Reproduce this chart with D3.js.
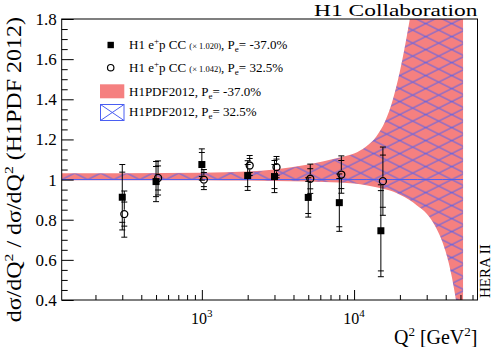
<!DOCTYPE html>
<html><head><meta charset="utf-8">
<script src="https://cdn.jsdelivr.net/npm/d3@7"></script>
<style>
html,body{margin:0;padding:0;background:#fff;}
svg{display:block;font-family:"Liberation Serif","Times New Roman",serif;}
</style></head>
<body>
<svg id="c" width="495" height="347"></svg>
<script>
// ---- data ----
const q2Points = [300, 500, 1000, 2000, 3000, 5000, 8000, 15000];
const negValues = [0.912, 0.990, 1.075, 1.020, 1.015, 0.911, 0.885, 0.745];
const negTotErr = [0.163, 0.100, 0.078, 0.074, 0.080, 0.098, 0.143, 0.229];
const negStatErr = [0.125, 0.075, 0.060, 0.055, 0.060, 0.080, 0.120, 0.200];
const posValues = [0.828, 1.008, 1.000, 1.070, 1.062, 1.004, 1.025, 0.992];
const posTotErr = [0.115, 0.085, 0.050, 0.050, 0.053, 0.073, 0.093, 0.170];
const posStatErr = [0.060, 0.060, 0.035, 0.035, 0.040, 0.050, 0.070, 0.130];

const bandQ2 = [120, 300, 1000, 2000, 3000, 5000, 8000, 10000, 12000, 14000, 16000, 18000, 20000, 23000, 26000, 30000, 34000, 38000, 42000, 46000, 50000, 52000];
const negBandUpper = [1.032, 1.032, 1.034, 1.040, 1.050, 1.075, 1.110, 1.130, 1.165, 1.215, 1.290, 1.400, 1.540, 1.780, 2.030, 2.300, 2.600, 2.900, 3.200, 3.500, 3.800, 4.000];
const negBandLower = [0.997, 0.997, 0.997, 0.995, 0.993, 0.990, 0.985, 0.980, 0.972, 0.962, 0.952, 0.940, 0.925, 0.900, 0.870, 0.830, 0.770, 0.690, 0.580, 0.430, 0.250, 0.150];
const posBandUpper = [1.030, 1.030, 1.032, 1.038, 1.048, 1.073, 1.108, 1.128, 1.163, 1.213, 1.288, 1.398, 1.538, 1.778, 2.030, 2.300, 2.600, 2.900, 3.200, 3.500, 3.800, 4.000];
const posBandLower = [1.000, 1.000, 1.000, 0.997, 0.995, 0.992, 0.987, 0.982, 0.974, 0.964, 0.954, 0.942, 0.927, 0.902, 0.872, 0.832, 0.772, 0.692, 0.582, 0.432, 0.252, 0.152];

const yTickValues = [0.4, 0.6, 0.8, 1.0, 1.2, 1.4, 1.6, 1.8];
const yTickLabels = ["0.4", "0.6", "0.8", "1", "1.2", "1.4", "1.6", "1.8"];
const xMajorTicks = [1000, 10000];
const xMajorExp = ["3", "4"];

const xDomain = [120, 64700];
const yDomain = [0.4, 1.8];

// ---- layout ----
const L = 61.7, R = 477.5, T = 19, B = 300;
const svg = d3.select("#c");
const x = d3.scaleLog().domain(xDomain).range([L, R]);
const y = d3.scaleLinear().domain(yDomain).range([B, T]);

const RED = "#f58080", BLUE = "#4a5ef2";

svg.append("defs").append("clipPath").attr("id", "clip")
  .append("rect").attr("x", L).attr("y", T).attr("width", R - L).attr("height", B - T);
const PW = 26, PH = 13;
const pat = svg.select("defs").append("pattern").attr("id", "hatch")
  .attr("patternUnits", "userSpaceOnUse").attr("width", PW).attr("height", PH)
  .attr("x", L).attr("y", y(1));
pat.append("path").attr("d", `M${-PW},${-PH}L${2*PW},${2*PH}M${-PW},${2*PH}L${2*PW},${-PH}`)
  .attr("stroke", BLUE).attr("stroke-width", 1).attr("fill", "none");

const plot = svg.append("g").attr("clip-path", "url(#clip)");

const negBand = bandQ2.map((q, i) => ({q, lo: negBandLower[i], hi: negBandUpper[i]}));
const posBand = bandQ2.map((q, i) => ({q, lo: posBandLower[i], hi: posBandUpper[i]}));
const area = d3.area().x(d => x(d.q)).y0(d => y(d.lo)).y1(d => y(d.hi)).curve(d3.curveMonotoneX);

plot.append("path").datum(negBand).attr("d", area).attr("fill", RED);
plot.append("path").datum(posBand).attr("d", area).attr("fill", "url(#hatch)");
plot.append("path").datum(bandQ2).attr("d", d3.line().x(q => x(q)).y(() => y(1)))
  .attr("stroke", BLUE).attr("stroke-width", 1).attr("fill", "none");

// ---- points ----
function drawSeries(vals, tot, stat, shift, kind) {
  const g = svg.append("g");
  const r = 3.5;
  q2Points.forEach((q, i) => {
    const cx = x(q * shift), cy = y(vals[i]);
    const yt = y(vals[i] + tot[i]), yb = y(vals[i] - tot[i]);
    const gap = kind === "circle" ? r + 0.8 : 0;
    g.append("line").attr("x1", cx).attr("x2", cx).attr("y1", yt).attr("y2", cy - gap)
      .attr("stroke", "#000").attr("stroke-width", 1);
    g.append("line").attr("x1", cx).attr("x2", cx).attr("y1", cy + gap).attr("y2", yb)
      .attr("stroke", "#000").attr("stroke-width", 1);
    [vals[i] + tot[i], vals[i] - tot[i], vals[i] + stat[i], vals[i] - stat[i]].forEach(v => {
      g.append("line").attr("x1", cx - 3).attr("x2", cx + 3).attr("y1", y(v)).attr("y2", y(v))
        .attr("stroke", "#000").attr("stroke-width", 1);
    });
    if (kind === "square") {
      g.append("rect").attr("x", cx - r).attr("y", cy - r).attr("width", 2 * r).attr("height", 2 * r).attr("fill", "#000");
    } else {
      g.append("circle").attr("cx", cx).attr("cy", cy).attr("r", r).attr("fill", "none")
        .attr("stroke", "#000").attr("stroke-width", 1.3);
    }
  });
}
drawSeries(negValues, negTotErr, negStatErr, 1, "square");
drawSeries(posValues, posTotErr, posStatErr, 1.031, "circle");

// ---- axes ----
const minorX = [];
[100, 1000, 10000].forEach(d => { for (let k = 2; k <= 9; k++) { const v = d * k; if (v > xDomain[0] && v < xDomain[1]) minorX.push(v); } });
svg.append("g").attr("transform", `translate(0,${B})`)
  .call(d3.axisBottom(x).tickValues(minorX).tickSize(-5).tickFormat(""))
  .call(g => g.select(".domain").remove());
svg.append("g").attr("transform", `translate(0,${B})`)
  .call(d3.axisBottom(x).tickValues(xMajorTicks).tickSize(-10).tickFormat(""))
  .call(g => g.select(".domain").remove());

const minorY = d3.range(0.45, 1.8, 0.05).filter(v => Math.abs(v * 5 - Math.round(v * 5)) > 1e-6);
svg.append("g").attr("transform", `translate(${L},0)`)
  .call(d3.axisLeft(y).tickValues(minorY).tickSize(-6).tickFormat(""))
  .call(g => g.select(".domain").remove());
svg.append("g").attr("transform", `translate(${L},0)`)
  .call(d3.axisLeft(y).tickValues(yTickValues).tickSize(-12).tickPadding(5)
    .tickFormat((d, i) => yTickLabels[i]))
  .call(g => g.select(".domain").remove())
  .call(g => g.selectAll("text").attr("font-size", 17).attr("font-family", "Liberation Serif").attr("fill", "#000"));
svg.selectAll(".tick line").attr("stroke", "#000");

svg.append("rect").attr("x", L).attr("y", T).attr("width", R - L).attr("height", B - T)
  .attr("fill", "none").attr("stroke", "#000").attr("stroke-width", 1);

// x tick labels with superscript
xMajorTicks.forEach((v, i) => {
  const t = svg.append("text").attr("x", x(v)).attr("y", 324).attr("text-anchor", "middle").attr("font-size", 16);
  t.append("tspan").text("10");
  t.append("tspan").attr("font-size", 11).attr("dy", -7).text(xMajorExp[i]);
});

// axis titles
const xt = svg.append("text").attr("x", 477.5).attr("y", 344).attr("text-anchor", "end").attr("font-size", 20);
xt.append("tspan").text("Q");
xt.append("tspan").attr("font-size", 13).attr("dy", -8).text("2");
xt.append("tspan").attr("dy", 8).text(" [GeV");
xt.append("tspan").attr("font-size", 13).attr("dy", -8).text("2");
xt.append("tspan").attr("dy", 8).text("]");

const yt = svg.append("text").attr("transform", "translate(21,17) rotate(-90) scale(1.2,1)")
  .attr("text-anchor", "end").attr("font-size", 20);
yt.append("tspan").text("dσ/dQ");
yt.append("tspan").attr("font-size", 13).attr("dy", -8).text("2");
yt.append("tspan").attr("dy", 8).text(" / dσ/dQ");
yt.append("tspan").attr("font-size", 13).attr("dy", -8).text("2");
yt.append("tspan").attr("dy", 8).text(" (H1PDF 2012)");

svg.append("text").attr("transform", "translate(477.5,16) scale(1.34,1)").attr("text-anchor", "end")
  .attr("font-size", 17.5).text("H1 Collaboration");
svg.append("text").attr("transform", "translate(490,298) rotate(-90)").attr("font-size", 15).text("HERA II");

// ---- legend ----
const lg = svg.append("g");
function legendText(yb, parts) {
  const t = lg.append("text").attr("x", 129).attr("y", yb).attr("font-size", 13);
  parts.forEach(p => {
    const s = t.append("tspan").text(p.t);
    if (p.size) s.attr("font-size", p.size);
    if (p.dy) s.attr("dy", p.dy);
  });
}
lg.append("rect").attr("x", 107.5).attr("y", 41.8).attr("width", 6.4).attr("height", 6.4).attr("fill", "#000");
legendText(49, [{t: "H1 e"}, {t: "+", size: 9, dy: -5}, {t: "p CC ", dy: 5}, {t: "(× 1.020)", size: 8.5}, {t: ", P"}, {t: "e", size: 9, dy: 3}, {t: "= -37.0%", dy: -3}]);
lg.append("circle").attr("cx", 110.7).attr("cy", 67.7).attr("r", 3.2).attr("fill", "none").attr("stroke", "#000").attr("stroke-width", 1.2);
legendText(71.5, [{t: "H1 e"}, {t: "+", size: 9, dy: -5}, {t: "p CC ", dy: 5}, {t: "(× 1.042)", size: 8.5}, {t: ", P"}, {t: "e", size: 9, dy: 3}, {t: "= 32.5%", dy: -3}]);
lg.append("rect").attr("x", 100).attr("y", 84.3).attr("width", 24.3).attr("height", 14).attr("fill", RED);
legendText(95.5, [{t: "H1PDF2012, P"}, {t: "e", size: 9, dy: 3}, {t: "= -37.0%", dy: -3}]);
lg.append("rect").attr("x", 100.5).attr("y", 104.5).attr("width", 23.5).attr("height", 16).attr("fill", "none").attr("stroke", BLUE).attr("stroke-width", 1);
lg.append("path").attr("d", "M100.5,104.5L124,120.5M100.5,120.5L124,104.5").attr("stroke", BLUE).attr("stroke-width", 1).attr("fill", "none");
legendText(116, [{t: "H1PDF2012, P"}, {t: "e", size: 9, dy: 3}, {t: "= 32.5%", dy: -3}]);
</script>
</body></html>
